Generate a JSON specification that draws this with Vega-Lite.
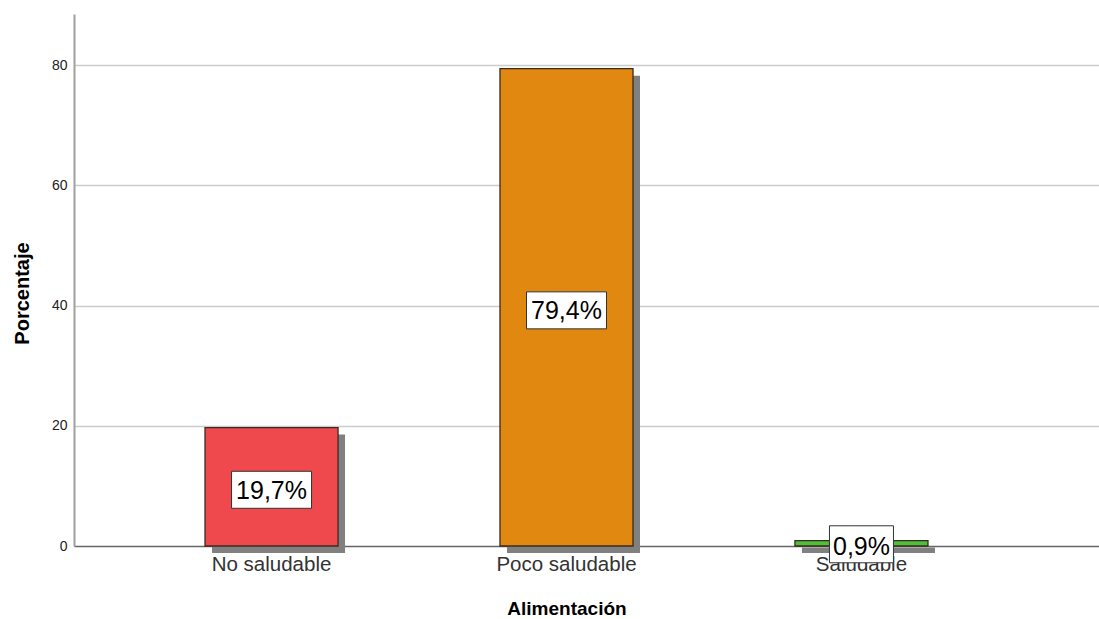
{
  "$schema": "https://vega.github.io/schema/vega-lite/v6.json",
  "width": 1025,
  "height": 532,
  "autosize": "none",
  "padding": {"left": 74, "top": 14, "right": 0, "bottom": 73},
  "background": "white",
  "config": {"view": {"stroke": null}, "font": "Liberation Sans"},
  "data": {
    "values": [
      {"cat": "No saludable", "pct": 19.7, "label": "19,7%"},
      {"cat": "Poco saludable", "pct": 79.4, "label": "79,4%"},
      {"cat": "Saludable", "pct": 0.9, "label": "0,9%"}
    ]
  },
  "transform": [{"calculate": "datum.pct / 2", "as": "mid"}],
  "encoding": {
    "x": {
      "field": "cat",
      "type": "nominal",
      "sort": null,
      "scale": {"paddingInner": 0.549, "paddingOuter": 0.512},
      "axis": {
        "title": "Alimentación",
        "titleFontSize": 19,
        "titleFontWeight": "bold",
        "titleColor": "#000000",
        "titlePadding": 25,
        "titleX": 492.5,
        "labelFontSize": 20.5,
        "labelColor": "#333333",
        "labelAngle": 0,
        "labelPadding": 8,
        "labelOffset": -20,
        "ticks": false,
        "domain": false,
        "grid": false
      }
    }
  },
  "layer": [
    {
      "mark": {"type": "bar", "color": "#808080", "xOffset": -13, "yOffset": 7},
      "encoding": {
        "y": {
          "field": "pct",
          "type": "quantitative",
          "scale": {"domain": [0, 88.5], "nice": false},
          "axis": {
            "title": "Porcentaje",
            "titleFontSize": 20,
            "titleFontWeight": "bold",
            "titleColor": "#000000",
            "titleY": 279,
            "titlePadding": 19,
            "values": [0, 20, 40, 60, 80],
            "labelFontSize": 14,
            "labelColor": "#222222",
            "labelPadding": 7,
            "ticks": false,
            "domainColor": "#a0a0a0",
            "domainWidth": 2,
            "grid": true,
            "gridColor": {"condition": {"test": "datum.value === 0", "value": "#666666"}, "value": "#cccccc"},
            "gridWidth": 1.5,
            "gridOpacity": 1
          }
        }
      }
    },
    {
      "mark": {"type": "bar", "stroke": "#3b2a1e", "strokeWidth": 1.3, "xOffset": -20},
      "encoding": {
        "y": {"field": "pct", "type": "quantitative"},
        "color": {
          "field": "cat",
          "type": "nominal",
          "scale": {
            "domain": ["No saludable", "Poco saludable", "Saludable"],
            "range": ["#ef494d", "#e08810", "#4cc038"]
          },
          "legend": null
        }
      }
    },
    {
      "transform": [{"filter": "length(datum.label) > 4"}],
      "mark": {"type": "rect", "width": 80, "height": 37, "xOffset": -20, "yOffset": 3, "fill": "white", "stroke": "#333333", "strokeWidth": 1},
      "encoding": {"y": {"field": "mid", "type": "quantitative"}}
    },
    {
      "transform": [{"filter": "length(datum.label) <= 4"}],
      "mark": {"type": "rect", "width": 64, "height": 37, "xOffset": -20, "yOffset": 1, "fill": "white", "stroke": "#333333", "strokeWidth": 1},
      "encoding": {"y": {"field": "mid", "type": "quantitative"}}
    },
    {
      "mark": {"type": "text", "fontSize": 25, "baseline": "middle", "xOffset": -20, "yOffset": 4, "color": "#000000"},
      "encoding": {
        "y": {"field": "mid", "type": "quantitative"},
        "text": {"field": "label"}
      }
    }
  ]
}
